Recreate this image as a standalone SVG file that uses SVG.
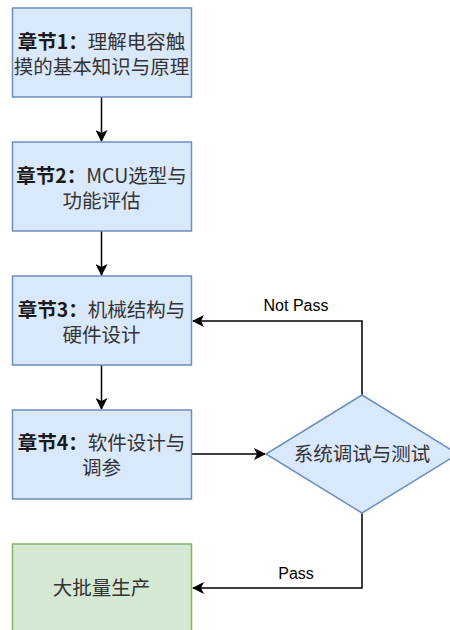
<svg xmlns="http://www.w3.org/2000/svg" width="450" height="630" viewBox="0 0 450 630">
<style>
.blue{fill:#dae8fc;stroke:#6c8ebf;stroke-width:1.5}
.green{fill:#d5e8d4;stroke:#82b366;stroke-width:1.5}
.t{font-family:"Noto Sans CJK SC","Noto Sans",sans-serif;font-size:19.5px;fill:#333;text-anchor:middle}
.b{font-weight:bold;fill:#1a1a1a}
.lbl{font-family:"Liberation Sans",Arial,sans-serif;font-size:16px;fill:#000;text-anchor:middle}
.c{fill:none;stroke:#000;stroke-width:1.5}
</style>
<defs>
<marker id="arr" viewBox="0 0 12 12" refX="11" refY="6" markerWidth="12" markerHeight="12" markerUnits="userSpaceOnUse" orient="auto">
<path d="M0,0 L12,6 L0,12 L3,6 Z" fill="#000"/>
</marker>
</defs>
<g id="connectors">
<line class="c" x1="101.5" y1="97" x2="101.5" y2="141" marker-end="url(#arr)"/>
<line class="c" x1="101.5" y1="231" x2="101.5" y2="275" marker-end="url(#arr)"/>
<line class="c" x1="101.5" y1="365" x2="101.5" y2="409" marker-end="url(#arr)"/>
<line class="c" x1="192" y1="454" x2="265" y2="454" marker-end="url(#arr)"/>
<polyline class="c" points="362,395 362,321 193,321" marker-end="url(#arr)"/>
<polyline class="c" points="362,513 362,588 193,588" marker-end="url(#arr)"/>
<text class="lbl" x="296" y="311">Not Pass</text>
<text class="lbl" x="296" y="579">Pass</text>
</g>
<g id="node1">
<rect class="blue" x="12.5" y="8" width="179" height="89"/>
<text class="t"><tspan class="b" x="101.5" y="49">章节1：</tspan><tspan>理解电容触</tspan><tspan x="101.5" y="74">摸的基本知识与原理</tspan></text>
</g>
<g id="node2">
<rect class="blue" x="12.5" y="142" width="179" height="89"/>
<text class="t"><tspan class="b" x="101.5" y="183">章节2：</tspan><tspan>MCU选型与</tspan><tspan x="101.5" y="208">功能评估</tspan></text>
</g>
<g id="node3">
<rect class="blue" x="12.5" y="276" width="179" height="89"/>
<text class="t"><tspan class="b" x="101.5" y="317">章节3：</tspan><tspan>机械结构与</tspan><tspan x="101.5" y="342">硬件设计</tspan></text>
</g>
<g id="node4">
<rect class="blue" x="12.5" y="410" width="179" height="89"/>
<text class="t"><tspan class="b" x="101.5" y="450">章节4：</tspan><tspan>软件设计与</tspan><tspan x="101.5" y="475">调参</tspan></text>
</g>
<g id="node5">
<rect class="green" x="12.5" y="544" width="179" height="89"/>
<text class="t" x="101.5" y="595">大批量生产</text>
</g>
<g id="decision">
<polygon class="blue" points="362,395 458,454 362,513 266,454"/>
<text class="t" x="362" y="461">系统调试与测试</text>
</g>
</svg>
